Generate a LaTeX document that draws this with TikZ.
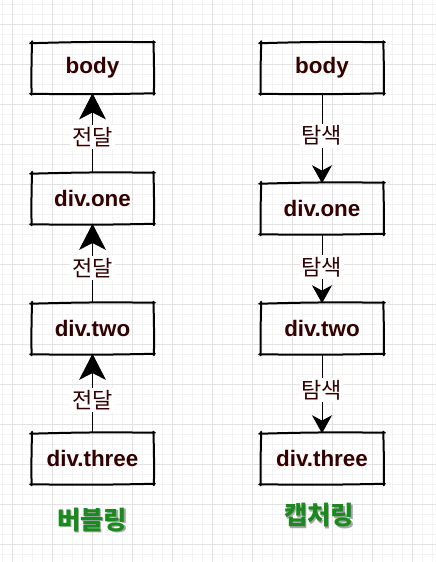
\documentclass[tikz,border=0pt]{standalone}
\usepackage{fontspec}
\setmainfont{Liberation Sans}
\newfontfamily\krfont{Noto Sans CJK KR}
\usetikzlibrary{arrows.meta,calc}
\definecolor{txt}{HTML}{330000}
\definecolor{grn}{HTML}{1A8A1F}
\definecolor{gmaj}{HTML}{E2E2E2}
\definecolor{gmin}{HTML}{F3F3F3}
\tikzset{
  boxnode/.style={minimum width=91pt,minimum height=37.5pt,inner sep=0pt,text=txt,font=\bfseries\fontsize{16.8}{18}\selectfont},
  skline/.style={line width=1.5pt,line cap=round,black},
  conn/.style={line width=0.75pt,black},
  uparr/.style={conn,-{Stealth[length=19.5pt,width=20pt,inset=5pt]}},
  downarr/.style={conn,-{Stealth[length=13.5pt,width=15pt,inset=4pt]}},
  lbl/.style={fill=white,inner sep=1.5pt,text=txt,font=\krfont\fontsize{16.5}{18}\selectfont},
  title/.style={text=grn,font=\krfont\bfseries\fontsize{19}{21}\selectfont},
  shadow/.style={text=black!35,font=\krfont\bfseries\fontsize{19}{21}\selectfont},
}
\newcommand\skbox[1]{%
  \draw[skline] ($(#1.north west)+(-1.5,0.5)$) to[bend left=1.2] ($(#1.north east)+(1.5,-0.5)$);
  \draw[skline] ($(#1.north east)+(0,-1.5)$) to[bend left=1.2] ($(#1.south east)+(0.5,1.5)$);
  \draw[skline] ($(#1.south east)+(1.5,0)$) to[bend left=1] ($(#1.south west)+(-1.5,0.5)$);
  \draw[skline] ($(#1.south west)+(0,1.5)$) to[bend left=1.2] ($(#1.north west)+(0.5,-1.5)$);
}
\begin{document}
\begin{tikzpicture}[x=0.75pt,y=-0.75pt]
\useasboundingbox (0,0) rectangle (436,562);
\fill[white] (0,0) rectangle (436,562);
% grid
\foreach \x in {2,12,...,432} \draw[gmin,line width=0.6pt] (\x,0) -- (\x,562);
\foreach \y in {4,14,...,560} \draw[gmin,line width=0.6pt] (0,\y) -- (436,\y);
\foreach \x in {12,52,...,432} \draw[gmaj,line width=0.75pt] (\x,0) -- (\x,562);
\foreach \y in {24,64,...,560} \draw[gmaj,line width=0.75pt] (0,\y) -- (436,\y);

% left column
\node[boxnode] (l1) at (92.5,68) {body};
\node[boxnode] (l2) at (92.5,198.5) {div.one};
\node[boxnode] (l3) at (92.5,328.5) {div.two};
\node[boxnode] (l4) at (92.5,458.5) {div.three};
% right column
\node[boxnode,minimum width=91.5pt] (r1) at (322,68) {body};
\node[boxnode,minimum width=91.5pt] (r2) at (322,208.5) {div.one};
\node[boxnode,minimum width=91.5pt] (r3) at (322,328.5) {div.two};
\node[boxnode,minimum width=91.5pt] (r4) at (322,458.5) {div.three};

% connectors left (bubbling)
\draw[uparr] (l2.north) -- node[lbl,pos=0.45] (e1) {전달} (l1.south);
\draw[uparr] (l3.north) -- node[lbl,pos=0.44] (e2) {전달} (l2.south);
\draw[uparr] (l4.north) -- node[lbl,pos=0.42] (e3) {전달} (l3.south);
% connectors right (capturing)
\draw[downarr] (r1.south) -- node[lbl,pos=0.47] (c1) {탐색} (r2.north);
\draw[downarr] (r2.south) -- node[lbl,pos=0.48] (c2) {탐색} (r3.north);
\draw[downarr] (r3.south) -- node[lbl,pos=0.46] (c3) {탐색} (r4.north);

% sketchy borders
\foreach \n in {l1,l2,l3,l4,r1,r2,r3,r4} {\skbox{\n}}

% titles
\node[shadow] (s1) at (93.5,521.5) {버블링};
\node[title] (t1) at (92,520) {버블링};
\node[shadow] (s2) at (320.5,517) {캡처링};
\node[title] (t2) at (319,515.5) {캡처링};
\end{tikzpicture}
\end{document}
